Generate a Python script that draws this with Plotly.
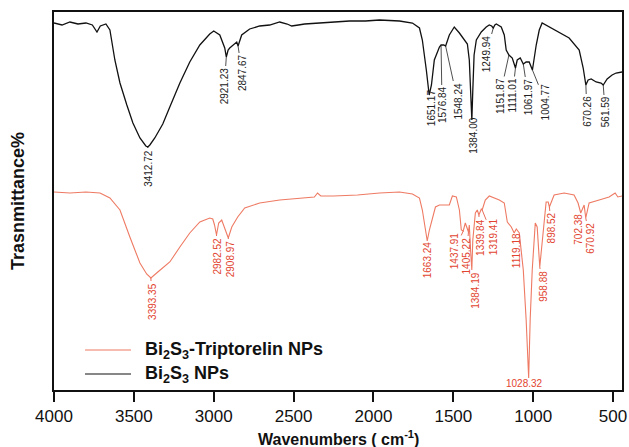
import numpy as np
import plotly.graph_objects as go

# ---------------- data ----------------
# Bi2S3 NPs (black), wavenumber cm-1 and transmittance (arb. units)
black_wn = [4000, 3950, 3900, 3850, 3800, 3760, 3731, 3710, 3675, 3650, 3619, 3600, 3587,
            3544, 3506, 3462, 3425, 3412.72, 3400, 3369, 3319, 3275, 3212, 3150, 3087, 3025,
            3000, 2962, 2940, 2931, 2921.23, 2910, 2900, 2875, 2856, 2847.67, 2835, 2825,
            2775, 2712, 2650, 2587, 2540, 2512, 2470, 2431, 2337, 2250, 2150, 2050, 1962,
            1837, 1756, 1712, 1694, 1669, 1651.17, 1637, 1619, 1587, 1576.84, 1560, 1548.24,
            1525, 1494, 1462, 1431, 1412, 1400, 1390, 1384.00, 1378, 1370, 1356, 1325, 1294,
            1275, 1260, 1249.94, 1240, 1231, 1200, 1181, 1169, 1151.87, 1131, 1111.01, 1100,
            1081, 1061.97, 1044, 1025, 1004.77, 981, 962, 944, 900, 837, 775, 712, 687,
            670.26, 656, 637, 606, 575, 561.59, 537, 506, 481, 444]
black_T = [367, 365, 368, 366, 367, 365, 358, 364, 366, 360, 330, 315, 307,
           285, 267, 252, 244, 243, 245, 252, 266, 283, 307, 328, 345, 356,
           359, 355, 347, 342, 333, 340, 342, 346, 348, 344, 350, 355,
           361, 364, 365, 368, 366, 364, 365, 366, 367, 368, 369, 369, 370,
           369, 367, 362, 350, 320, 295, 305, 330, 343, 345, 345, 344,
           355, 363, 357, 350, 346, 330, 290, 270, 300, 335, 350, 358, 363,
           365, 364, 362, 365, 366, 363, 355, 340, 335, 332, 322, 330,
           332, 326, 328, 328, 320, 345, 360, 367, 363, 358, 352, 340, 322,
           305, 310, 311, 308, 307, 305, 311, 315, 317, 318]

# Bi2S3-Triptorelin NPs (red)
red_wn = [4000, 3900, 3800, 3712, 3650, 3587, 3525, 3462, 3420, 3393.35, 3350, 3275, 3212,
          3150, 3087, 3025, 3006, 2995, 2982.52, 2969, 2950, 2930, 2908.97, 2887, 2850, 2806,
          2712, 2587, 2462, 2370, 2350, 2330, 2250, 2100, 1962, 1837, 1756, 1712, 1694, 1680,
          1663.24, 1650, 1637, 1612, 1587, 1525, 1506, 1481, 1462, 1450, 1437.91, 1425,
          1405.22, 1400, 1392, 1384.19, 1378, 1370, 1362, 1350, 1339.84, 1325, 1319.41, 1300,
          1275, 1212, 1181, 1162, 1137, 1119.18, 1106, 1087, 1062, 1044, 1028.32, 1019, 1006,
          987, 975, 958.88, 950, 931, 919, 906, 898.52, 869, 806, 744, 719, 702.38, 681,
          670.92, 650, 587, 525, 487, 470, 444]
red_T = [198, 197, 198, 197, 192, 180, 153, 127, 116, 112, 118, 128, 143,
         157, 168, 172, 171, 165, 155, 167, 170, 162, 152, 163, 173, 182,
         187, 190, 192, 193, 197, 194, 194, 195, 197, 198, 196, 192, 180, 165,
         149, 160, 167, 183, 185, 185, 194, 193, 180, 160, 159, 167,
         158, 165, 140, 120, 150, 168, 177, 180, 175, 181, 180, 190,
         194, 190, 187, 168, 163, 157, 161, 157, 120, 70, 12, 70, 120,
         167, 163, 123, 137, 173, 188, 188, 183, 195, 197, 195, 187, 177, 185,
         172, 187, 190, 193, 197, 193, 194]

black_peaks = [3412.72, 2921.23, 2847.67, 1651.17, 1576.84, 1548.24, 1384.00, 1249.94,
               1151.87, 1111.01, 1061.97, 1004.77, 670.26, 561.59]
red_peaks = [3393.35, 2982.52, 2908.97, 1663.24, 1437.91, 1405.22, 1384.19, 1339.84,
             1319.41, 1119.18, 958.88, 898.52, 702.38, 670.92]
red_main_peak = 1028.32

x_ticks = [4000, 3500, 3000, 2500, 2000, 1500, 1000, 500]

# ---------------- layout / styling ----------------
BLACK = "#111111"
RED_LINE = "#ee7a63"
RED_TEXT = "#e2452f"
FONT = "Liberation Sans, Arial, sans-serif"

# label text-centre offsets (pixels) relative to the peak point
black_off = [(0, 21), (-2, 29), (4, 27), (2, 13), (1, 60), (12, 55), (1, 15), (-7, 26),
             (-9, 41), (-3, 27), (5, 33), (13, 32), (1, 26), (2, 27)]
red_off = [(1, 23), (0, 21), (2, 21), (0, 19), (-9, 20), (-2, 24), (3, 20), (1, 22),
           (11, 27), (2, 18), (3, 19), (2, 21), (-3, 16), (4, 20)]

fig = go.Figure()
fig.add_trace(go.Scatter(x=black_wn, y=black_T, mode="lines", name="Bi2S3 NPs",
                         line=dict(color=BLACK, width=1.3), showlegend=False,
                         hoverinfo="skip"))
fig.add_trace(go.Scatter(x=red_wn, y=red_T, mode="lines", name="Bi2S3-Triptorelin NPs",
                         line=dict(color=RED_LINE, width=1.1), showlegend=False,
                         hoverinfo="skip"))


def value_at(wn_list, t_list, wn):
    xs = np.array(wn_list[::-1], dtype=float)
    ys = np.array(t_list[::-1], dtype=float)
    return float(np.interp(wn, xs, ys))


annotations = []
for peaks, offs, wl, tl, col in [(black_peaks, black_off, black_wn, black_T, "#222222"),
                                 (red_peaks, red_off, red_wn, red_T, RED_TEXT)]:
    for pk, (dx, dy) in zip(peaks, offs):
        annotations.append(dict(
            x=pk, y=value_at(wl, tl, pk), xref="x", yref="y",
            text=f"{pk:.2f}", textangle=-90, showarrow=True, arrowhead=0,
            arrowwidth=0.8, arrowcolor=col, ax=dx, ay=dy, standoff=0,
            font=dict(family=FONT, size=10, color=col)))

annotations.append(dict(
    x=red_main_peak, y=value_at(red_wn, red_T, red_main_peak), xref="x", yref="y",
    text=f"{red_main_peak:.2f}", showarrow=False, xshift=-4, yshift=-5,
    yanchor="middle", font=dict(family=FONT, size=10, color=RED_TEXT)))

# manual legend
legend_items = [("<b>Bi<sub>2</sub>S<sub>3</sub>-Triptorelin NPs</b>", RED_LINE, 0.1058),
                ("<b>Bi<sub>2</sub>S<sub>3</sub> NPs</b>", BLACK, 0.0423)]
shapes = []
for txt, col, yy in legend_items:
    shapes.append(dict(type="line", xref="paper", yref="paper", x0=0.0546, x1=0.1356,
                       y0=yy, y1=yy, line=dict(color=col, width=1.2)))
    annotations.append(dict(x=0.1567, y=yy, xref="paper", yref="paper", text=txt,
                            showarrow=False, xanchor="left", yanchor="middle",
                            font=dict(family=FONT, size=18, color="#111111")))

# axis titles as paper annotations
annotations.append(dict(x=0.5, y=0, xref="paper", yref="paper", yshift=-48,
                        yanchor="middle",
                        text="<b>Wavenumbers ( cm<sup>-1</sup>)</b>", showarrow=False,
                        font=dict(family=FONT, size=16, color=BLACK)))
annotations.append(dict(x=0, y=0.5, xref="paper", yref="paper", xshift=-36,
                        text="<b>Trasnmittance%</b>", textangle=-90, showarrow=False,
                        xanchor="center", yanchor="middle",
                        font=dict(family=FONT, size=18, color=BLACK)))

fig.update_layout(
    width=629, height=447,
    margin=dict(l=54, r=7, t=12, b=57, autoexpand=False),
    paper_bgcolor="white", plot_bgcolor="white",
    annotations=annotations, shapes=shapes,
    xaxis=dict(range=[4000, 444], tickvals=x_ticks, ticktext=[str(t) for t in x_ticks],
               ticks="outside", ticklen=10, tickwidth=2, tickcolor=BLACK,
               showline=True, linewidth=2, linecolor=BLACK, mirror=True,
               showgrid=False, zeroline=False, automargin=False,
               tickfont=dict(family=FONT, size=17, color=BLACK)),
    yaxis=dict(range=[0, 378], showticklabels=False, ticks="", showgrid=False,
               zeroline=False, showline=True, linewidth=2, linecolor=BLACK, mirror=True,
               automargin=False),
)

fig.write_html("out.html", config={"displayModeBar": False},
               post_script="document.body.style.margin='0';"
                           "document.body.style.overflow='hidden';")
